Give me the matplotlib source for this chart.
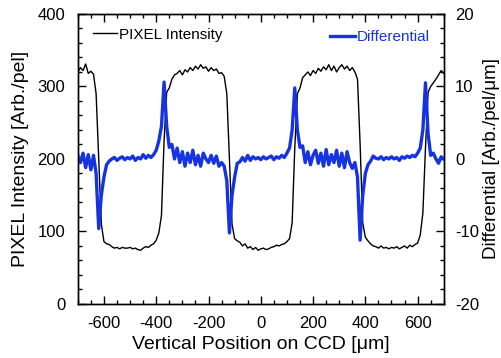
# PIXEL intensity profile and its derivative along the CCD

import numpy as np
import matplotlib.pyplot as plt
from matplotlib.ticker import MultipleLocator

plt.rcParams['font.family'] = ['Liberation Sans', 'DejaVu Sans']
plt.rcParams['axes.unicode_minus'] = False

# sample positions (um), every 10 um
position = np.arange(-700, 701, 10)

# intensity [Arb./pel]
intensity = [
    320, 326, 322, 331, 318, 321, 317,               # -700 .. -640
    290, 200, 110, 86,                                # -630 .. -600
    83, 82, 79, 77, 78, 76, 78, 77, 77, 78,           # -590 .. -500
    76, 77, 75, 74, 77, 79, 78, 81, 83, 88,           # -490 .. -400
    98, 122, 225, 292, 298,                           # -390 .. -350
    310, 316, 318, 322, 316, 323, 320, 326, 322, 328, # -340 .. -250
    324, 330, 325, 327, 321, 326, 322, 324, 318, 319, # -240 .. -150
    314,                                              # -140
    290, 200, 110, 90,                                # -130 .. -100
    87, 85, 80, 83, 77, 79, 75, 78, 74, 76,           # -90 .. 0
    77, 75, 76, 78, 79, 81, 80, 82, 83, 86,           # 10 .. 100
    90, 112, 215, 290, 298,                           # 110 .. 150
    312, 316, 320, 315, 322, 318, 325, 321, 327, 323, # 160 .. 250
    330, 322, 328, 320, 326, 330, 324, 328, 322, 326, # 260 .. 350
    320, 310,                                         # 360 .. 370
    220, 112, 92,                                     # 380 .. 400
    87, 83, 80, 79, 77, 80, 77, 78, 76, 78,           # 410 .. 500
    77, 79, 76, 78, 80, 77, 81, 79, 82, 84,           # 510 .. 600
    95, 125, 215, 292, 300,                           # 610 .. 650
    305, 310, 316, 322, 318,                          # 660 .. 700
]

# differential [Arb./pel/um]
differential = [
    0.5, -0.5, 0.8, -1.2, 0.6, -1.5, 0.5,                     # -700 .. -640
    -2.0, -9.6, -5.0, -2.5,                                   # -630 .. -600
    -0.8, -0.3, 0.0, 0.2, -0.2, 0.1, 0.3, -0.1, 0.2, 0.0,     # -590 .. -500
    0.4, -0.2, 0.2, 0.0, 0.6, 0.1, 0.5, 0.2, 0.6, 1.2,        # -490 .. -400
    2.5, 4.5, 10.6, 4.5, 1.6,                                 # -390 .. -350
    2.0, 0.0, 1.5, -0.5, 1.0, -1.0, 0.8, -0.5, 1.2, -0.8,     # -340 .. -250
    0.5, -1.0, 0.8, 0.0, -0.5, 0.5, -0.6, 0.4, -1.0, -0.5,    # -240 .. -150
    -1.0,                                                     # -140
    -3.0, -10.2, -5.0, -2.5,                                  # -130 .. -100
    -0.6, -0.4, 0.2, -0.3, 0.5, -0.2, 0.3, 0.0, 0.2, -0.1,    # -90 .. 0
    0.3, 0.0, 0.2, 0.4, -0.1, 0.3, 0.1, 0.5, 0.2, 0.8,        # 10 .. 100
    1.5, 4.0, 9.8, 4.0, 1.6,                                  # 110 .. 150
    1.8, -0.5, 1.0, -0.8, 0.5, 1.2, -0.6, 0.8, -1.0, 1.3,     # 160 .. 250
    -0.8, 0.6, -0.5, 1.2, -1.0, 0.8, -1.2, 1.0, -0.5, -1.3,   # 260 .. 350
    -0.5, -2.5,                                               # 360 .. 370
    -11.2, -5.0, -2.0,                                        # 380 .. 400
    -0.8, -0.3, 0.4, 0.1, 0.0, 0.3, -0.1, 0.2, 0.0, 0.3,      # 410 .. 500
    0.0, 0.2, -0.2, 0.3, 0.1, 0.4, 0.2, 0.5, 0.3, 0.8,        # 510 .. 600
    1.5, 4.0, 10.5, 3.5, 0.5,                                 # 610 .. 650
    0.8, 0.0, -0.6, 0.3, 0.0,                                 # 660 .. 700
]

fig = plt.figure(figsize=(5.02, 3.58), dpi=100)
ax = fig.add_axes([0.155, 0.151, 0.729, 0.810])
ax2 = ax.twinx()

ax.plot(position, intensity, color='black', lw=1.0, label='PIXEL Intensity')
ax2.plot(position, differential, color='#1633e2', lw=2.4, label='Differential')

ax.set_xlim(-700, 700)
ax.set_ylim(0, 400)
ax2.set_ylim(-20, 20)

ax.xaxis.set_major_locator(MultipleLocator(200))
ax.xaxis.set_minor_locator(MultipleLocator(50))
ax.yaxis.set_major_locator(MultipleLocator(100))
ax.yaxis.set_minor_locator(MultipleLocator(20))
ax2.yaxis.set_major_locator(MultipleLocator(10))
ax2.yaxis.set_minor_locator(MultipleLocator(2))

ax.tick_params(which='both', direction='in', top=True, right=False, labelsize=12, width=1)
ax.tick_params(which='major', length=6, pad=9)
ax.tick_params(which='minor', length=3)
ax2.tick_params(which='both', direction='in', labelsize=12, width=1)
ax2.tick_params(which='major', length=6, pad=8)
ax2.tick_params(which='minor', length=3)
for a in (ax, ax2):
    for s in a.spines.values():
        s.set_linewidth(1.0)

ax.set_xlabel('Vertical Position on CCD [\u03bcm]', fontsize=14, labelpad=3)
ax.set_ylabel('PIXEL Intensity [Arb./pel]', fontsize=14, labelpad=6)
ax2.set_ylabel('Differential [Arb./pel/\u03bcm]', fontsize=13.5, labelpad=3)

ax.legend(loc='upper left', frameon=False, fontsize=11, handlelength=1.6,
          handletextpad=0.1, borderaxespad=0.3, bbox_to_anchor=(0.012, 0.99))
leg2 = ax2.legend(loc='upper right', frameon=False, fontsize=11, handlelength=1.6,
                  handletextpad=0.1, borderaxespad=0.3, bbox_to_anchor=(0.99, 0.98))
for t in leg2.get_texts():
    t.set_color('#1633e2')

fig.savefig('out.png', dpi=100)
